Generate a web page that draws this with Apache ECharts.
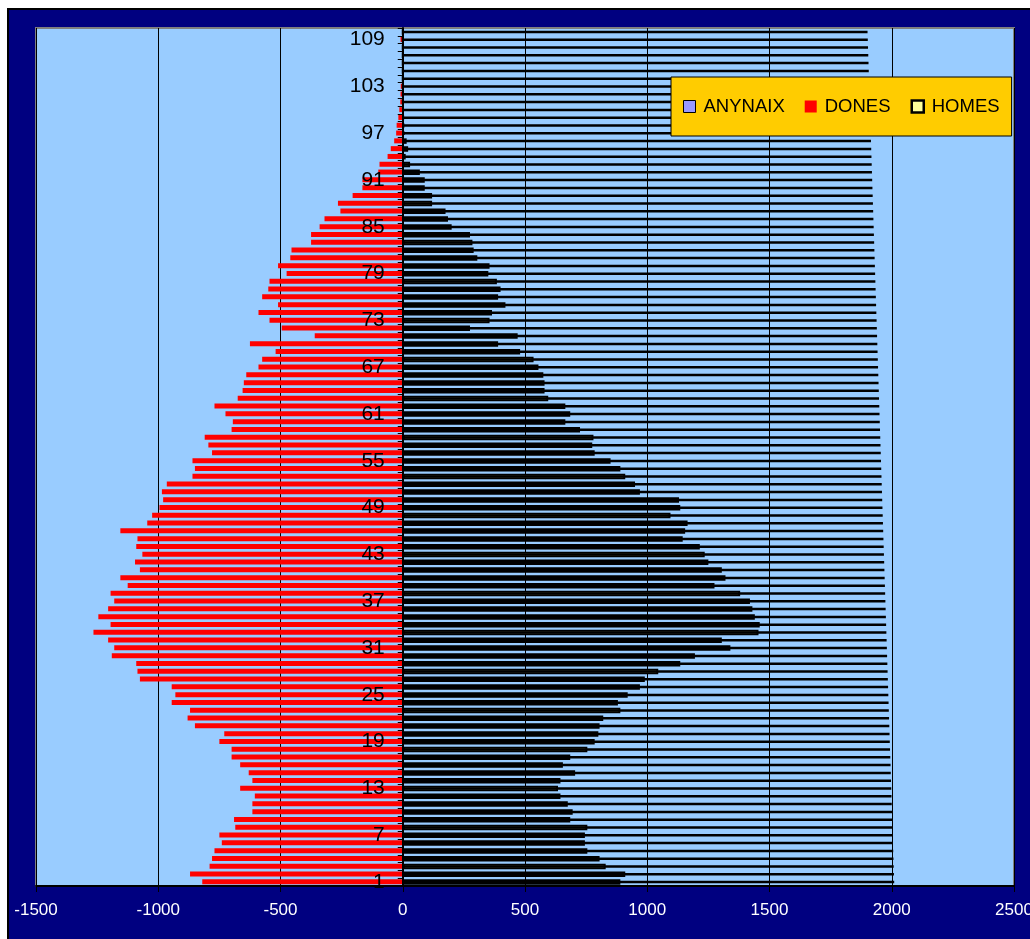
<!DOCTYPE html>
<html>
<head>
<meta charset="utf-8">
<script src="https://cdn.jsdelivr.net/npm/echarts@6/dist/echarts.min.js"></script>
<style>
html,body{margin:0;padding:0;background:#fff;}
#chart{width:1030px;height:939px;}
</style>
</head>
<body>
<div id="chart"></div>
<script>
// Categories (ages) 1..110
const categories = ['1','2','3','4','5','6','7','8','9','10','11','12','13','14','15','16','17','18','19','20','21','22','23','24','25','26','27','28','29','30','31','32','33','34','35','36','37','38','39','40','41','42','43','44','45','46','47','48','49','50','51','52','53','54','55','56','57','58','59','60','61','62','63','64','65','66','67','68','69','70','71','72','73','74','75','76','77','78','79','80','81','82','83','84','85','86','87','88','89','90','91','92','93','94','95','96','97','98','99','100','101','102','103','104','105','106','107','108','109','110'];

// ANYNAIX (birth year)
const anynaix = [2010,2009,2008,2007,2006,2005,2004,2003,2002,2001,2000,1999,1998,1997,1996,1995,1994,1993,1992,1991,1990,1989,1988,1987,1986,1985,1984,1983,1982,1981,1980,1979,1978,1977,1976,1975,1974,1973,1972,1971,1970,1969,1968,1967,1966,1965,1964,1963,1962,1961,1960,1959,1958,1957,1956,1955,1954,1953,1952,1951,1950,1949,1948,1947,1946,1945,1944,1943,1942,1941,1940,1939,1938,1937,1936,1935,1934,1933,1932,1931,1930,1929,1928,1927,1926,1925,1924,1923,1922,1921,1920,1919,1918,1917,1916,1915,1914,1913,1912,1911,1910,1909,1908,1907,1906,1905,1904,1903,1902,1901];

// DONES (women, drawn to the left)
const dones = [-820,-870,-790,-780,-770,-740,-750,-685,-690,-615,-615,-605,-665,-615,-630,-665,-700,-700,-750,-730,-850,-880,-870,-945,-930,-945,-1075,-1085,-1090,-1190,-1180,-1205,-1265,-1195,-1245,-1205,-1180,-1195,-1125,-1155,-1075,-1095,-1065,-1090,-1085,-1155,-1045,-1025,-995,-980,-985,-965,-860,-850,-860,-780,-795,-810,-700,-695,-725,-770,-675,-655,-650,-640,-590,-575,-520,-625,-360,-495,-545,-590,-510,-575,-550,-545,-475,-510,-460,-455,-375,-375,-340,-320,-255,-265,-205,-165,-165,-100,-95,-62,-49,-35,-27,-25,-18,-14,-10,-9,-8,-3,-2,-1,-1,0,-9,0];

// HOMES (men, drawn to the right)
const homes = [890,910,830,805,755,745,745,755,685,695,675,645,635,645,705,655,685,755,785,800,805,820,890,880,920,970,990,1045,1135,1195,1340,1305,1455,1460,1440,1430,1420,1380,1275,1320,1305,1250,1235,1215,1145,1155,1165,1095,1135,1130,970,950,910,890,850,785,775,780,725,665,685,665,595,580,580,575,555,535,480,390,470,275,355,365,420,390,400,385,350,355,305,290,285,275,200,185,175,120,120,90,90,70,30,12,22,16,8,5,3,2,1,1,0,0,0,0,0,0,0,0];

const FONT = 'Liberation Sans, Arial, sans-serif';
const X_MIN = -1500, X_MAX = 2500, X_STEP = 500;
const GRID_LEFT = 36, GRID_TOP = 28, GRID_W = 978, GRID_H = 858;
// y category axis crosses the value axis at 0
const zeroOffset = -(0 - X_MIN) / (X_MAX - X_MIN) * GRID_W;

const chart = echarts.init(document.getElementById('chart'), null, {renderer: 'canvas'});
chart.setOption({
  backgroundColor: '#ffffff',
  animation: false,
  graphic: [{
    type: 'rect', z: -100, silent: true,
    shape: {x: 8, y: 9, width: 1040, height: 950},
    style: {fill: '#000080', stroke: '#000000', lineWidth: 2}
  }],
  legend: {
    left: 671, top: 77, z: 20,
    padding: [20, 12, 20, 12],
    itemGap: 20, itemWidth: 12, itemHeight: 12,
    backgroundColor: '#FFCC00', borderColor: '#000000', borderWidth: 1,
    textStyle: {color: '#000000', fontSize: 18.5, fontFamily: FONT, padding: [0, 0, 0, 3]},
    data: [
      {name: 'ANYNAIX', icon: 'rect', itemStyle: {color: '#9999FF', borderColor: '#000000', borderWidth: 1}},
      {name: 'DONES', icon: 'rect', itemStyle: {color: '#FF0000', borderWidth: 0}},
      {name: 'HOMES', icon: 'rect', itemStyle: {color: '#FFFF99', borderColor: '#000000', borderWidth: 2.5}}
    ]
  },
  grid: {
    left: GRID_LEFT, top: GRID_TOP, width: GRID_W, height: GRID_H,
    outerBoundsMode: 'none', containLabel: false,
    show: true, backgroundColor: '#99CCFF', borderColor: '#808080', borderWidth: 2
  },
  xAxis: {
    type: 'value', min: X_MIN, max: X_MAX, interval: X_STEP,
    axisLine: {show: true, onZero: false, lineStyle: {color: '#000000', width: 2}},
    axisTick: {show: true, length: 6, lineStyle: {color: '#000000', width: 1}},
    axisLabel: {color: '#FFFFFF', fontSize: 17, fontFamily: FONT, margin: 16, formatter: function (v) { return String(v); }},
    splitLine: {show: true, lineStyle: {color: '#000000', width: 1}}
  },
  yAxis: [{
    type: 'category', data: categories, position: 'left', offset: zeroOffset, z: 10,
    axisLine: {show: true, onZero: false, lineStyle: {color: '#000000', width: 2}},
    axisTick: {show: true, interval: 0, length: 5, lineStyle: {color: '#000000', width: 1}},
    axisLabel: {interval: 5, color: '#000000', fontSize: 21, fontFamily: FONT, margin: 18},
    splitLine: {show: false}
  }, {
    type: 'category', data: categories, position: 'right', show: false
  }],
  series: [{
    name: 'DONES', type: 'bar', yAxisIndex: 0, data: dones,
    barWidth: 5, barGap: '-100%',
    itemStyle: {color: '#FF0000'}
  }, {
    name: 'HOMES', type: 'bar', yAxisIndex: 0, data: homes,
    barWidth: 5.5, barGap: '-100%',
    itemStyle: {color: '#FFFF99', borderColor: '#000000', borderWidth: 2}
  }, {
    name: 'ANYNAIX', type: 'bar', yAxisIndex: 1, data: anynaix,
    barWidth: 2.5, z: 3,
    itemStyle: {color: '#9999FF', borderColor: '#000000', borderWidth: 1.5}
  }]
});
</script>
</body>
</html>
